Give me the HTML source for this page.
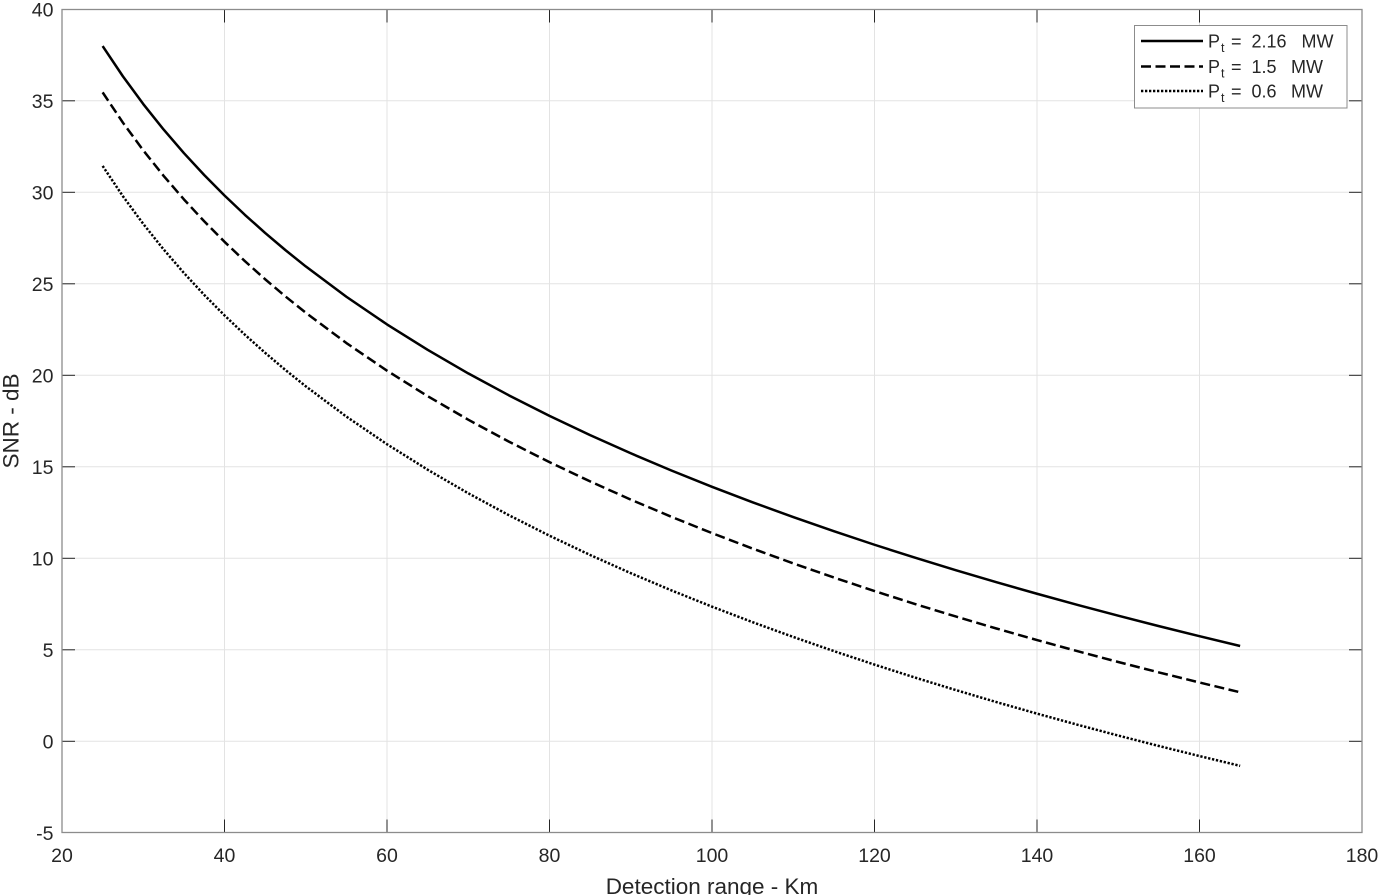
<!DOCTYPE html>
<html>
<head>
<meta charset="utf-8">
<style>
html,body{margin:0;padding:0;background:#fff;}
svg{display:block;}
text{font-family:"Liberation Sans",Arial,sans-serif;fill:#262626;}
</style>
</head>
<body>
<svg width="1382" height="895" viewBox="0 0 1382 895" xmlns="http://www.w3.org/2000/svg">
  <rect x="0" y="0" width="1382" height="895" fill="#fff"/>
  <!-- grid -->
  <g stroke="#e3e3e3" stroke-width="1">
    <line x1="224.5" y1="9.5" x2="224.5" y2="832.5"/>
    <line x1="387" y1="9.5" x2="387" y2="832.5"/>
    <line x1="549.5" y1="9.5" x2="549.5" y2="832.5"/>
    <line x1="712" y1="9.5" x2="712" y2="832.5"/>
    <line x1="874.5" y1="9.5" x2="874.5" y2="832.5"/>
    <line x1="1037" y1="9.5" x2="1037" y2="832.5"/>
    <line x1="1199.5" y1="9.5" x2="1199.5" y2="832.5"/>
    <line x1="62" y1="100.8" x2="1362" y2="100.8"/>
    <line x1="62" y1="192.3" x2="1362" y2="192.3"/>
    <line x1="62" y1="283.8" x2="1362" y2="283.8"/>
    <line x1="62" y1="375.3" x2="1362" y2="375.3"/>
    <line x1="62" y1="466.8" x2="1362" y2="466.8"/>
    <line x1="62" y1="558.3" x2="1362" y2="558.3"/>
    <line x1="62" y1="649.8" x2="1362" y2="649.8"/>
    <line x1="62" y1="741.3" x2="1362" y2="741.3"/>
  </g>
  <!-- ticks -->
  <g stroke="#262626" stroke-width="1">
    <line x1="224.5" y1="832.5" x2="224.5" y2="819.5"/>
    <line x1="387" y1="832.5" x2="387" y2="819.5"/>
    <line x1="549.5" y1="832.5" x2="549.5" y2="819.5"/>
    <line x1="712" y1="832.5" x2="712" y2="819.5"/>
    <line x1="874.5" y1="832.5" x2="874.5" y2="819.5"/>
    <line x1="1037" y1="832.5" x2="1037" y2="819.5"/>
    <line x1="1199.5" y1="832.5" x2="1199.5" y2="819.5"/>
    <line x1="224.5" y1="9.5" x2="224.5" y2="22.5"/>
    <line x1="387" y1="9.5" x2="387" y2="22.5"/>
    <line x1="549.5" y1="9.5" x2="549.5" y2="22.5"/>
    <line x1="712" y1="9.5" x2="712" y2="22.5"/>
    <line x1="874.5" y1="9.5" x2="874.5" y2="22.5"/>
    <line x1="1037" y1="9.5" x2="1037" y2="22.5"/>
    <line x1="1199.5" y1="9.5" x2="1199.5" y2="22.5"/>
    <line x1="62" y1="100.8" x2="75" y2="100.8"/>
    <line x1="62" y1="192.3" x2="75" y2="192.3"/>
    <line x1="62" y1="283.8" x2="75" y2="283.8"/>
    <line x1="62" y1="375.3" x2="75" y2="375.3"/>
    <line x1="62" y1="466.8" x2="75" y2="466.8"/>
    <line x1="62" y1="558.3" x2="75" y2="558.3"/>
    <line x1="62" y1="649.8" x2="75" y2="649.8"/>
    <line x1="62" y1="741.3" x2="75" y2="741.3"/>
    <line x1="1362" y1="100.8" x2="1349" y2="100.8"/>
    <line x1="1362" y1="192.3" x2="1349" y2="192.3"/>
    <line x1="1362" y1="283.8" x2="1349" y2="283.8"/>
    <line x1="1362" y1="375.3" x2="1349" y2="375.3"/>
    <line x1="1362" y1="466.8" x2="1349" y2="466.8"/>
    <line x1="1362" y1="558.3" x2="1349" y2="558.3"/>
    <line x1="1362" y1="649.8" x2="1349" y2="649.8"/>
    <line x1="1362" y1="741.3" x2="1349" y2="741.3"/>
  </g>
  <!-- axes box -->
  <rect x="62" y="9.5" width="1300" height="823" fill="none" stroke="#8c8c8c" stroke-width="1.3"/>

  <!-- curves -->
  <g fill="none" stroke="#000" stroke-width="2.5" stroke-linejoin="round">
    <path transform="translate(0,46.08)" d="M102.63,0 L122.94,30.30 L143.25,57.96 L163.56,83.41 L183.88,106.97 L204.19,128.90 L224.5,149.42 L244.81,168.69 L265.13,186.86 L285.44,204.05 L305.75,220.35 L346.38,250.65 L387,278.31 L427.63,303.76 L468.25,327.32 L508.88,349.25 L549.5,369.77 L590.13,389.04 L630.75,407.21 L671.38,424.40 L712,440.71 L752.63,456.22 L793.25,471.01 L833.88,485.14 L874.5,498.67 L915.13,511.65 L955.75,524.11 L996.38,536.11 L1037,547.67 L1077.63,558.83 L1118.25,569.61 L1158.88,580.03 L1199.5,590.12 L1240.13,599.91"/>
    <path transform="translate(0,92.38)" stroke-dasharray="10,4.5" d="M102.63,0 L122.94,30.30 L143.25,57.96 L163.56,83.41 L183.88,106.97 L204.19,128.90 L224.5,149.42 L244.81,168.69 L265.13,186.86 L285.44,204.05 L305.75,220.35 L346.38,250.65 L387,278.31 L427.63,303.76 L468.25,327.32 L508.88,349.25 L549.5,369.77 L590.13,389.04 L630.75,407.21 L671.38,424.40 L712,440.71 L752.63,456.22 L793.25,471.01 L833.88,485.14 L874.5,498.67 L915.13,511.65 L955.75,524.11 L996.38,536.11 L1037,547.67 L1077.63,558.83 L1118.25,569.61 L1158.88,580.03 L1199.5,590.12 L1240.13,599.91"/>
    <path transform="translate(0,165.95)" stroke-dasharray="2.3,1.7" d="M102.63,0 L122.94,30.30 L143.25,57.96 L163.56,83.41 L183.88,106.97 L204.19,128.90 L224.5,149.42 L244.81,168.69 L265.13,186.86 L285.44,204.05 L305.75,220.35 L346.38,250.65 L387,278.31 L427.63,303.76 L468.25,327.32 L508.88,349.25 L549.5,369.77 L590.13,389.04 L630.75,407.21 L671.38,424.40 L712,440.71 L752.63,456.22 L793.25,471.01 L833.88,485.14 L874.5,498.67 L915.13,511.65 L955.75,524.11 L996.38,536.11 L1037,547.67 L1077.63,558.83 L1118.25,569.61 L1158.88,580.03 L1199.5,590.12 L1240.13,599.91"/>
  </g>

  <!-- y tick labels -->
  <g font-size="19.5" text-anchor="end">
    <text x="53.5" y="16.5">40</text>
    <text x="53.5" y="108">35</text>
    <text x="53.5" y="199.5">30</text>
    <text x="53.5" y="291">25</text>
    <text x="53.5" y="382.5">20</text>
    <text x="53.5" y="474">15</text>
    <text x="53.5" y="565.5">10</text>
    <text x="53.5" y="657">5</text>
    <text x="53.5" y="748.5">0</text>
    <text x="53.5" y="840">-5</text>
  </g>
  <!-- x tick labels -->
  <g font-size="19.5" text-anchor="middle">
    <text x="62" y="862">20</text>
    <text x="224.5" y="862">40</text>
    <text x="387" y="862">60</text>
    <text x="549.5" y="862">80</text>
    <text x="712" y="862">100</text>
    <text x="874.5" y="862">120</text>
    <text x="1037" y="862">140</text>
    <text x="1199.5" y="862">160</text>
    <text x="1362" y="862">180</text>
  </g>
  <!-- axis labels -->
  <text x="712" y="894" font-size="22.5" text-anchor="middle">Detection range - Km</text>
  <text transform="translate(18.5,421) rotate(-90)" x="0" y="0" font-size="22.5" text-anchor="middle">SNR - dB</text>

  <!-- legend -->
  <rect x="1134.5" y="25.5" width="212.5" height="82.5" fill="#fff" stroke="#8c8c8c" stroke-width="1"/>
  <g stroke="#000" stroke-width="2.5" fill="none">
    <line x1="1141" y1="41" x2="1203" y2="41"/>
    <line x1="1141" y1="66.5" x2="1203" y2="66.5" stroke-dasharray="10,4.5"/>
    <line x1="1141" y1="91" x2="1203" y2="91" stroke-dasharray="2.3,1.7"/>
  </g>
  <g font-size="18">
    <text x="1208" y="47.5">P</text><text x="1221" y="52" font-size="12.5">t</text>
    <text x="1231" y="47.5">=</text>
    <text x="1251.5" y="47.5">2.16</text>
    <text x="1301.5" y="47.5">MW</text>

    <text x="1208" y="73">P</text><text x="1221" y="77.5" font-size="12.5">t</text>
    <text x="1231" y="73">=</text>
    <text x="1251.5" y="73">1.5</text>
    <text x="1291" y="73">MW</text>

    <text x="1208" y="97.5">P</text><text x="1221" y="102" font-size="12.5">t</text>
    <text x="1231" y="97.5">=</text>
    <text x="1251.5" y="97.5">0.6</text>
    <text x="1291" y="97.5">MW</text>
  </g>
</svg>
</body>
</html>
